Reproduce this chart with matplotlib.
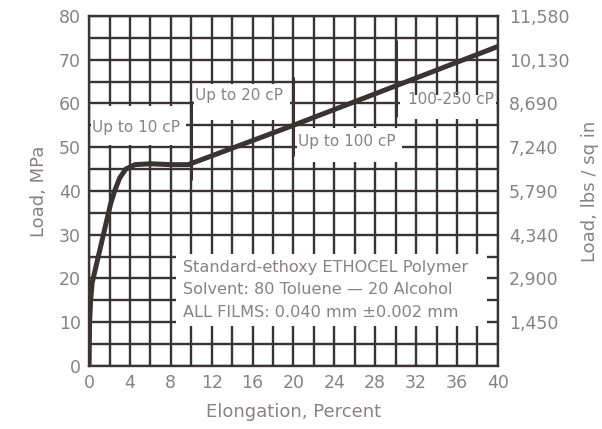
import matplotlib as mpl
mpl.rcParams['font.family'] = 'DejaVu Sans'
import matplotlib.pyplot as plt
from matplotlib.patches import Rectangle

# stress-strain curve
elongation = [0, 0.05, 0.15, 0.3, 0.6, 0.9, 1.3, 1.7, 2.1, 2.5, 3.0, 3.6, 4.5, 6, 8, 9.7, 20, 30, 40]
load_mpa = [0, 10, 15, 19, 22, 25, 29, 33, 37, 40, 43, 45, 46, 46.2, 46, 46, 55, 64, 73]

# viscosity grade markers (x, y bottom, y top)
marker_x = [10, 20, 30]
marker_lo = [42.5, 48, 57]
marker_hi = [60.5, 66, 74.5]

x_ticks = list(range(0, 41, 4))
y_ticks = list(range(0, 81, 10))
psi_ticks = [10, 20, 30, 40, 50, 60, 70, 80]
psi_labels = ['1,450', '2,900', '4,340', '5,790', '7,240', '8,690', '10,130', '11,580']

ink = '#3a3333'
txt = '#8a8282'

fig = plt.figure(figsize=(6.02, 4.29), dpi=100)
ax = fig.add_axes([0.148, 0.147, 0.679, 0.816])

ax.set_xlim(0, 40)
ax.set_ylim(0, 80)
ax.set_xticks(x_ticks)
ax.set_xticks(range(0, 41, 2), minor=True)
ax.set_yticks(y_ticks)
ax.set_yticks(range(0, 81, 5), minor=True)
ax.set_axisbelow(True)
ax.grid(which='both', color=ink, linewidth=1.7)
ax.tick_params(which='both', length=0, labelsize=12.5, labelcolor=txt, pad=6)
for s in ax.spines.values():
    s.set_color(ink)
    s.set_linewidth(1.7)

# white label boxes covering the grid
boxes = [(0.2, 50.6, 9.3, 8.8), (10.3, 56.2, 9.4, 8.3), (20.3, 46.5, 10.3, 7.8),
         (30.4, 56.4, 9.4, 5.6), (8.5, 9.2, 30.4, 16.3)]
for bx, by, bw, bh in boxes:
    ax.add_patch(Rectangle((bx, by), bw, bh, facecolor='white', edgecolor='none', zorder=1))

ax.plot(elongation, load_mpa, color=ink, linewidth=3.6, zorder=3)
ax.vlines(marker_x, marker_lo, marker_hi, color=ink, linewidth=2.2, zorder=3)

fs = 11
ax.text(0.3, 54.6, 'Up to 10 cP', color=txt, fontsize=fs, va='center', zorder=4)
ax.text(10.4, 61.8, 'Up to 20 cP', color=txt, fontsize=fs, va='center', zorder=4)
ax.text(20.4, 51.2, 'Up to 100 cP', color=txt, fontsize=fs, va='center', zorder=4)
ax.text(31.2, 60.8, '100-250 cP', color=txt, fontsize=fs, va='center', zorder=4)
fs2 = 11.6
ax.text(9.2, 22.4, 'Standard-ethoxy ETHOCEL Polymer', color=txt, fontsize=fs2, va='center', zorder=4)
ax.text(9.2, 17.4, 'Solvent: 80 Toluene \u2014 20 Alcohol', color=txt, fontsize=fs2, va='center', zorder=4)
ax.text(9.2, 12.1, 'ALL FILMS: 0.040 mm \u00b10.002 mm', color=txt, fontsize=fs2, va='center', zorder=4)

ax.set_xlabel('Elongation, Percent', color=txt, fontsize=13, labelpad=8)
ax.set_ylabel('Load, MPa', color=txt, fontsize=13, labelpad=8)

ax2 = ax.twinx()
ax2.set_ylim(0, 80)
ax2.set_yticks(psi_ticks)
ax2.set_yticklabels(psi_labels)
ax2.tick_params(length=0, labelsize=12.5, labelcolor=txt, pad=8)
ax2.set_ylabel('Load, lbs / sq in', color=txt, fontsize=13, rotation=90, labelpad=8)
for s in ax2.spines.values():
    s.set_visible(False)

fig.savefig('out.png', dpi=100)
